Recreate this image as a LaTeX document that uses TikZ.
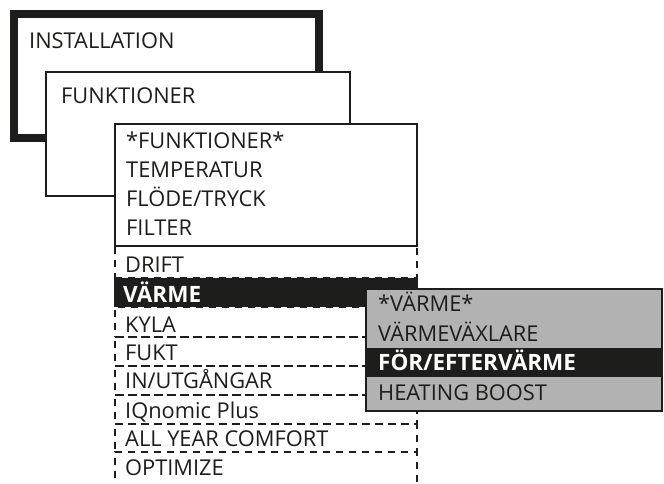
\documentclass[tikz,border=0pt]{standalone}
\usepackage{fontspec}
\setmainfont{Open Sans}
\usetikzlibrary{positioning}
\definecolor{ink}{HTML}{1D1D1B}
\definecolor{panel}{HTML}{B2B2B2}

\begin{document}
\begin{tikzpicture}[x=1pt, y=-1pt,
  menu/.style={draw=ink, fill=white, anchor=north west, inner sep=0pt, outer sep=0pt},
  row/.style={draw=ink, line width=1.6pt, dash pattern=on 7pt off 6pt,
              anchor=north west, inner sep=0pt, outer sep=0pt, minimum width=302pt},
  entry/.style={anchor=base west, inner sep=0pt, text=ink, font=\fontsize{21.8}{22}\selectfont},
  pick/.style={entry, text=white, font=\fontsize{22.5}{22}\selectfont\bfseries}]
\useasboundingbox (0,0) rectangle (664,483);
% stacked menu frames
\node[menu, line width=8pt, minimum width=305pt, minimum height=124pt] (installbox) at (14,14) {};
\node[menu, line width=2pt, minimum width=304pt, minimum height=124pt] (funkbox) at (46,72) {};
% scrolling list below the open frame
\node[row, minimum height=32pt] (driftrow) at (115,246) {};
\node[row, minimum height=30pt] (kylarow) at (115,307) {};
\node[row, minimum height=29pt] (fuktrow) at (115,337) {};
\node[row, minimum height=29pt] (iorow) at (115,366) {};
\node[row, minimum height=29pt] (iqrow) at (115,395) {};
\node[row, minimum height=28pt] (ayrow) at (115,424) {};
\node[row, minimum height=40pt] (optrow) at (115,452) {};
\node[menu, fill=ink, draw=none, minimum width=304pt, minimum height=29pt] (varmerow) at (114,278) {};
\node[menu, line width=2pt, minimum width=302pt, minimum height=122pt] (listbox) at (115,124) {};
% submenu
\node[menu, fill=panel, line width=2pt, minimum width=296pt, minimum height=122pt] (subbox) at (366,289) {};
\node[menu, fill=ink, draw=none, minimum width=296pt, minimum height=29pt] (forrow) at (366,348) {};

\node[entry] (install) at (29,48) {INSTALLATION};
\node[entry] (funk) at (61,103) {FUNKTIONER};
\node[entry] (funkhead) at (126,148) {*FUNKTIONER*};
\node[entry] (temp) at (126,177.5) {TEMPERATUR};
\node[entry] (flode) at (126,206.5) {FLÖDE/TRYCK};
\node[entry] (filter) at (126,235) {FILTER};
\node[entry] (drift) at (125,272) {DRIFT};
\node[pick] (varme) at (123,302) {VÄRME};
\node[entry] (kyla) at (125,332) {KYLA};
\node[entry] (fukt) at (125,360) {FUKT};
\node[entry] (inut) at (125,388.5) {IN/UTGÅNGAR};
\node[entry] (iq) at (125,418) {IQnomic Plus};
\node[entry] (allyear) at (125,446.5) {ALL YEAR COMFORT};
\node[entry] (optimize) at (125,475) {OPTIMIZE};

\node[entry] (varmehead) at (378,311.5) {*VÄRME*};
\node[entry] (vvx) at (378,341.5) {VÄRMEVÄXLARE};
\node[pick] (forefter) at (378,370.5) {FÖR/EFTERVÄRME};
\node[entry] (boost) at (378,400) {HEATING BOOST};
\end{tikzpicture}
\end{document}
